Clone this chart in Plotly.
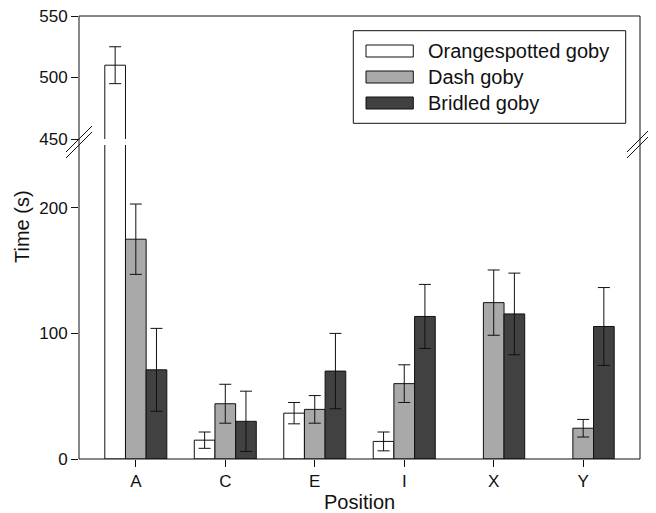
import plotly.graph_objects as go

# ---- data ----
categories = ["A", "C", "E", "I", "X", "Y"]
series_names = ["Orangespotted goby", "Dash goby", "Bridled goby"]
orangespotted = [510, 15, 36.5, 14, None, None]
orangespotted_err = [15, 6.5, 8.5, 7.5, None, None]
dash = [175, 44, 39.5, 60, 124.5, 24.5]
dash_err = [28, 15.5, 11, 15, 26, 7]
bridled = [71, 30, 70, 113.5, 115.5, 105.5]
bridled_err = [33, 24, 30, 25.5, 32.5, 31]
lower_ticks = [0, 100, 200]
upper_ticks = [450, 500, 550]

colors = ["#ffffff", "#a9a9a9", "#414141"]
values = [orangespotted, dash, bridled]
errors = [orangespotted_err, dash_err, bridled_err]

FONT = "Liberation Sans, Arial, sans-serif"

fig = go.Figure()
for yax in ["y", "y2"]:
    for name, vals, errs, col in zip(series_names, values, errors, colors):
        fig.add_trace(go.Bar(
            x=categories, y=vals, name=name, xaxis="x", yaxis=yax,
            offsetgroup=name, showlegend=False,
            marker=dict(color=col, line=dict(color="#111111", width=1)),
            error_y=dict(type="data", array=errs, visible=True,
                         color="#111111", thickness=1, width=6),
        ))

# page body adds an 8px offset, so the figure is 8px smaller and margins shifted
OFF = 8
W, H = 656 - OFF, 513 - OFF
ml, mr, mt, mb = 79 - OFF, 16, 16 - OFF, 54
ph = H - mt - mb  # 443
lower_top = (459 - 145) / ph
upper_bot = (459 - 139) / ph

axis_common = dict(showgrid=False, zeroline=False, showline=False, automargin=False,
                   ticks="outside", ticklen=7, tickwidth=1, tickcolor="#111111",
                   ticklabeloverflow="allow",
                   tickfont=dict(family=FONT, size=17, color="#111111"))

fig.update_layout(
    width=W, height=H,
    margin=dict(l=ml, r=mr, t=mt, b=mb, autoexpand=False),
    paper_bgcolor="white", plot_bgcolor="white",
    barmode="group", bargap=0.307, bargroupgap=0,
    showlegend=False,
    xaxis=dict(range=[-0.635, 5.635], anchor="y", **axis_common),
    yaxis=dict(domain=[0, lower_top], range=[0, 250], tickvals=lower_ticks,
               anchor="x", **axis_common),
    yaxis2=dict(domain=[upper_bot, 1], range=[450, 550], tickvals=upper_ticks,
                anchor="x", **axis_common),
    font=dict(family=FONT, color="#111111"),
)

shapes = []
# frame
shapes.append(dict(type="rect", xref="paper", yref="paper", x0=0, x1=1, y0=0, y1=1,
                   line=dict(color="#111111", width=1), layer="above"))
# break marks on both sides
gap_c = (lower_top + upper_bot) / 2
for xa in [0, 1]:
    for off in [-3, 3]:
        shapes.append(dict(type="line", xref="paper", yref="paper",
                           xsizemode="pixel", ysizemode="pixel",
                           xanchor=xa, yanchor=gap_c,
                           x0=-13, x1=13, y0=-13 + off, y1=13 + off,
                           line=dict(color="#111111", width=1)))
# custom legend box
shapes.append(dict(type="rect", xref="paper", yref="paper",
                   xsizemode="pixel", ysizemode="pixel", xanchor=1, yanchor=1,
                   x0=-286.7, x1=-14.3, y0=-14.7, y1=-107.3,
                   line=dict(color="#111111", width=1), fillcolor="white"))
annotations = []
for i, (name, col) in enumerate(zip(series_names, colors)):
    cy = -35 - 26 * i
    shapes.append(dict(type="rect", xref="paper", yref="paper",
                       xsizemode="pixel", ysizemode="pixel", xanchor=1, yanchor=1,
                       x0=-274, x1=-226.7, y0=cy - 6, y1=cy + 6,
                       line=dict(color="#111111", width=1), fillcolor=col))
    annotations.append(dict(text=name, xref="paper", yref="paper", x=1, y=1,
                            xanchor="left", yanchor="middle", xshift=-214, yshift=cy,
                            showarrow=False, font=dict(family=FONT, size=20, color="#111111")))

# axis titles
annotations.append(dict(text="Time (s)", xref="paper", yref="paper", x=0, y=(459 - 227) / ph,
                        xshift=-57, textangle=-90, showarrow=False,
                        xanchor="center", yanchor="middle",
                        font=dict(family=FONT, size=20, color="#111111")))
annotations.append(dict(text="Position", xref="paper", yref="paper", x=0.5, y=0,
                        yshift=-43, showarrow=False, xanchor="center", yanchor="middle",
                        font=dict(family=FONT, size=20, color="#111111")))

fig.update_layout(shapes=shapes, annotations=annotations)
fig.write_html("out.html")
